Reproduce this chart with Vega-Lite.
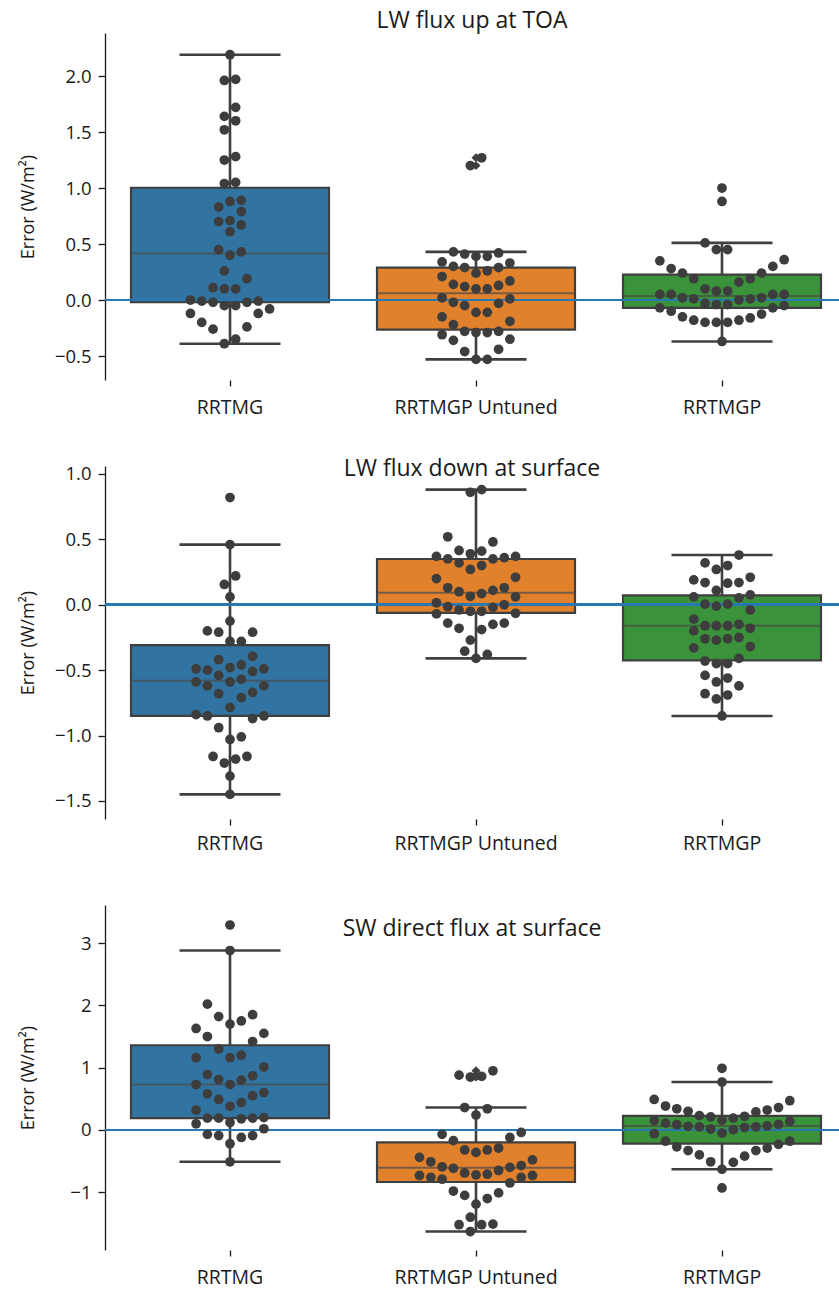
{
  "$schema": "https://vega.github.io/schema/vega-lite/v6.json",
  "padding": {"left": 19, "top": 10, "right": 0, "bottom": 12},
  "spacing": 86,
  "bounds": "flush",
  "datasets": {
    "toa": [
      {"model": "RRTMG", "error": 2.19}, {"model": "RRTMG", "error": 1.97}, {"model": "RRTMG", "error": 1.96}, {"model": "RRTMG", "error": 1.72}, {"model": "RRTMG", "error": 1.64}, {"model": "RRTMG", "error": 1.60}, {"model": "RRTMG", "error": 1.52}, {"model": "RRTMG", "error": 1.28}, {"model": "RRTMG", "error": 1.25}, {"model": "RRTMG", "error": 1.05}, {"model": "RRTMG", "error": 1.04}, {"model": "RRTMG", "error": 0.89}, {"model": "RRTMG", "error": 0.88}, {"model": "RRTMG", "error": 0.83}, {"model": "RRTMG", "error": 0.79}, {"model": "RRTMG", "error": 0.70}, {"model": "RRTMG", "error": 0.71}, {"model": "RRTMG", "error": 0.67}, {"model": "RRTMG", "error": 0.61}, {"model": "RRTMG", "error": 0.43}, {"model": "RRTMG", "error": 0.40}, {"model": "RRTMG", "error": 0.45}, {"model": "RRTMG", "error": 0.26}, {"model": "RRTMG", "error": 0.19}, {"model": "RRTMG", "error": 0.11}, {"model": "RRTMG", "error": 0.10}, {"model": "RRTMG", "error": 0.10}, {"model": "RRTMG", "error": 0.00}, {"model": "RRTMG", "error": -0.01}, {"model": "RRTMG", "error": -0.05}, {"model": "RRTMG", "error": -0.02}, {"model": "RRTMG", "error": -0.05}, {"model": "RRTMG", "error": -0.02}, {"model": "RRTMG", "error": -0.01}, {"model": "RRTMG", "error": -0.08}, {"model": "RRTMG", "error": -0.12}, {"model": "RRTMG", "error": -0.12}, {"model": "RRTMG", "error": -0.20}, {"model": "RRTMG", "error": -0.26}, {"model": "RRTMG", "error": -0.24}, {"model": "RRTMG", "error": -0.35}, {"model": "RRTMG", "error": -0.39},
      {"model": "RRTMGP Untuned", "error": 1.27}, {"model": "RRTMGP Untuned", "error": 1.20}, {"model": "RRTMGP Untuned", "error": 0.43}, {"model": "RRTMGP Untuned", "error": 0.41}, {"model": "RRTMGP Untuned", "error": 0.39}, {"model": "RRTMGP Untuned", "error": 0.33}, {"model": "RRTMGP Untuned", "error": 0.39}, {"model": "RRTMGP Untuned", "error": 0.42}, {"model": "RRTMGP Untuned", "error": 0.34}, {"model": "RRTMGP Untuned", "error": 0.30}, {"model": "RRTMGP Untuned", "error": 0.29}, {"model": "RRTMGP Untuned", "error": 0.26}, {"model": "RRTMGP Untuned", "error": 0.21}, {"model": "RRTMGP Untuned", "error": 0.24}, {"model": "RRTMGP Untuned", "error": 0.29}, {"model": "RRTMGP Untuned", "error": 0.14}, {"model": "RRTMGP Untuned", "error": 0.13}, {"model": "RRTMGP Untuned", "error": 0.10}, {"model": "RRTMGP Untuned", "error": 0.10}, {"model": "RRTMGP Untuned", "error": 0.12}, {"model": "RRTMGP Untuned", "error": 0.17}, {"model": "RRTMGP Untuned", "error": 0.02}, {"model": "RRTMGP Untuned", "error": 0.01}, {"model": "RRTMGP Untuned", "error": -0.03}, {"model": "RRTMGP Untuned", "error": -0.05}, {"model": "RRTMGP Untuned", "error": -0.02}, {"model": "RRTMGP Untuned", "error": -0.11}, {"model": "RRTMGP Untuned", "error": -0.11}, {"model": "RRTMGP Untuned", "error": -0.15}, {"model": "RRTMGP Untuned", "error": -0.19}, {"model": "RRTMGP Untuned", "error": -0.22}, {"model": "RRTMGP Untuned", "error": -0.28}, {"model": "RRTMGP Untuned", "error": -0.29}, {"model": "RRTMGP Untuned", "error": -0.31}, {"model": "RRTMGP Untuned", "error": -0.36}, {"model": "RRTMGP Untuned", "error": -0.35}, {"model": "RRTMGP Untuned", "error": -0.29}, {"model": "RRTMGP Untuned", "error": -0.28}, {"model": "RRTMGP Untuned", "error": -0.44}, {"model": "RRTMGP Untuned", "error": -0.46}, {"model": "RRTMGP Untuned", "error": -0.53}, {"model": "RRTMGP Untuned", "error": -0.53},
      {"model": "RRTMGP", "error": 1.00}, {"model": "RRTMGP", "error": 0.88}, {"model": "RRTMGP", "error": 0.51}, {"model": "RRTMGP", "error": 0.45}, {"model": "RRTMGP", "error": 0.45}, {"model": "RRTMGP", "error": 0.30}, {"model": "RRTMGP", "error": 0.35}, {"model": "RRTMGP", "error": 0.36}, {"model": "RRTMGP", "error": 0.28}, {"model": "RRTMGP", "error": 0.24}, {"model": "RRTMGP", "error": 0.24}, {"model": "RRTMGP", "error": 0.19}, {"model": "RRTMGP", "error": 0.16}, {"model": "RRTMGP", "error": 0.19}, {"model": "RRTMGP", "error": 0.10}, {"model": "RRTMGP", "error": 0.08}, {"model": "RRTMGP", "error": 0.05}, {"model": "RRTMGP", "error": 0.05}, {"model": "RRTMGP", "error": 0.05}, {"model": "RRTMGP", "error": 0.08}, {"model": "RRTMGP", "error": 0.02}, {"model": "RRTMGP", "error": 0.01}, {"model": "RRTMGP", "error": 0.01}, {"model": "RRTMGP", "error": 0.00}, {"model": "RRTMGP", "error": 0.02}, {"model": "RRTMGP", "error": 0.05}, {"model": "RRTMGP", "error": -0.03}, {"model": "RRTMGP", "error": -0.04}, {"model": "RRTMGP", "error": -0.07}, {"model": "RRTMGP", "error": -0.10}, {"model": "RRTMGP", "error": -0.07}, {"model": "RRTMGP", "error": -0.05}, {"model": "RRTMGP", "error": -0.04}, {"model": "RRTMGP", "error": -0.125}, {"model": "RRTMGP", "error": -0.16}, {"model": "RRTMGP", "error": -0.18}, {"model": "RRTMGP", "error": -0.20}, {"model": "RRTMGP", "error": -0.20}, {"model": "RRTMGP", "error": -0.20}, {"model": "RRTMGP", "error": -0.18}, {"model": "RRTMGP", "error": -0.15}, {"model": "RRTMGP", "error": -0.37}
    ],
    "sfc": [
      {"model": "RRTMG", "error": 0.82}, {"model": "RRTMG", "error": 0.46}, {"model": "RRTMG", "error": 0.22}, {"model": "RRTMG", "error": 0.155}, {"model": "RRTMG", "error": 0.06}, {"model": "RRTMG", "error": -0.125}, {"model": "RRTMG", "error": -0.20}, {"model": "RRTMG", "error": -0.21}, {"model": "RRTMG", "error": -0.21}, {"model": "RRTMG", "error": -0.28}, {"model": "RRTMG", "error": -0.28}, {"model": "RRTMG", "error": -0.395}, {"model": "RRTMG", "error": -0.42}, {"model": "RRTMG", "error": -0.49}, {"model": "RRTMG", "error": -0.51}, {"model": "RRTMG", "error": -0.48}, {"model": "RRTMG", "error": -0.54}, {"model": "RRTMG", "error": -0.50}, {"model": "RRTMG", "error": -0.49}, {"model": "RRTMG", "error": -0.46}, {"model": "RRTMG", "error": -0.57}, {"model": "RRTMG", "error": -0.62}, {"model": "RRTMG", "error": -0.62}, {"model": "RRTMG", "error": -0.59}, {"model": "RRTMG", "error": -0.59}, {"model": "RRTMG", "error": -0.68}, {"model": "RRTMG", "error": -0.71}, {"model": "RRTMG", "error": -0.67}, {"model": "RRTMG", "error": -0.785}, {"model": "RRTMG", "error": -0.85}, {"model": "RRTMG", "error": -0.87}, {"model": "RRTMG", "error": -0.85}, {"model": "RRTMG", "error": -0.84}, {"model": "RRTMG", "error": -0.94}, {"model": "RRTMG", "error": -1.01}, {"model": "RRTMG", "error": -1.03}, {"model": "RRTMG", "error": -1.18}, {"model": "RRTMG", "error": -1.21}, {"model": "RRTMG", "error": -1.16}, {"model": "RRTMG", "error": -1.16}, {"model": "RRTMG", "error": -1.31}, {"model": "RRTMG", "error": -1.45},
      {"model": "RRTMGP Untuned", "error": 0.88}, {"model": "RRTMGP Untuned", "error": 0.86}, {"model": "RRTMGP Untuned", "error": 0.52}, {"model": "RRTMGP Untuned", "error": 0.48}, {"model": "RRTMGP Untuned", "error": 0.41}, {"model": "RRTMGP Untuned", "error": 0.37}, {"model": "RRTMGP Untuned", "error": 0.35}, {"model": "RRTMGP Untuned", "error": 0.415}, {"model": "RRTMGP Untuned", "error": 0.39}, {"model": "RRTMGP Untuned", "error": 0.32}, {"model": "RRTMGP Untuned", "error": 0.30}, {"model": "RRTMGP Untuned", "error": 0.27}, {"model": "RRTMGP Untuned", "error": 0.35}, {"model": "RRTMGP Untuned", "error": 0.36}, {"model": "RRTMGP Untuned", "error": 0.37}, {"model": "RRTMGP Untuned", "error": 0.21}, {"model": "RRTMGP Untuned", "error": 0.20}, {"model": "RRTMGP Untuned", "error": 0.13}, {"model": "RRTMGP Untuned", "error": 0.11}, {"model": "RRTMGP Untuned", "error": 0.085}, {"model": "RRTMGP Untuned", "error": 0.06}, {"model": "RRTMGP Untuned", "error": 0.065}, {"model": "RRTMGP Untuned", "error": 0.10}, {"model": "RRTMGP Untuned", "error": 0.13}, {"model": "RRTMGP Untuned", "error": 0.0}, {"model": "RRTMGP Untuned", "error": -0.04}, {"model": "RRTMGP Untuned", "error": -0.065}, {"model": "RRTMGP Untuned", "error": -0.02}, {"model": "RRTMGP Untuned", "error": -0.07}, {"model": "RRTMGP Untuned", "error": -0.05}, {"model": "RRTMGP Untuned", "error": -0.05}, {"model": "RRTMGP Untuned", "error": -0.015}, {"model": "RRTMGP Untuned", "error": 0.015}, {"model": "RRTMGP Untuned", "error": -0.14}, {"model": "RRTMGP Untuned", "error": -0.15}, {"model": "RRTMGP Untuned", "error": -0.19}, {"model": "RRTMGP Untuned", "error": -0.18}, {"model": "RRTMGP Untuned", "error": -0.14}, {"model": "RRTMGP Untuned", "error": -0.27}, {"model": "RRTMGP Untuned", "error": -0.38}, {"model": "RRTMGP Untuned", "error": -0.355}, {"model": "RRTMGP Untuned", "error": -0.41},
      {"model": "RRTMGP", "error": 0.38}, {"model": "RRTMGP", "error": 0.32}, {"model": "RRTMGP", "error": 0.30}, {"model": "RRTMGP", "error": 0.27}, {"model": "RRTMGP", "error": 0.21}, {"model": "RRTMGP", "error": 0.17}, {"model": "RRTMGP", "error": 0.165}, {"model": "RRTMGP", "error": 0.17}, {"model": "RRTMGP", "error": 0.19}, {"model": "RRTMGP", "error": 0.11}, {"model": "RRTMGP", "error": 0.076}, {"model": "RRTMGP", "error": 0.053}, {"model": "RRTMGP", "error": 0.06}, {"model": "RRTMGP", "error": 0.005}, {"model": "RRTMGP", "error": -0.04}, {"model": "RRTMGP", "error": -0.01}, {"model": "RRTMGP", "error": 0.005}, {"model": "RRTMGP", "error": -0.11}, {"model": "RRTMGP", "error": -0.15}, {"model": "RRTMGP", "error": -0.16}, {"model": "RRTMGP", "error": -0.16}, {"model": "RRTMGP", "error": -0.20}, {"model": "RRTMGP", "error": -0.18}, {"model": "RRTMGP", "error": -0.16}, {"model": "RRTMGP", "error": -0.26}, {"model": "RRTMGP", "error": -0.27}, {"model": "RRTMGP", "error": -0.26}, {"model": "RRTMGP", "error": -0.25}, {"model": "RRTMGP", "error": -0.33}, {"model": "RRTMGP", "error": -0.32}, {"model": "RRTMGP", "error": -0.41}, {"model": "RRTMGP", "error": -0.45}, {"model": "RRTMGP", "error": -0.45}, {"model": "RRTMGP", "error": -0.43}, {"model": "RRTMGP", "error": -0.59}, {"model": "RRTMGP", "error": -0.56}, {"model": "RRTMGP", "error": -0.54}, {"model": "RRTMGP", "error": -0.62}, {"model": "RRTMGP", "error": -0.69}, {"model": "RRTMGP", "error": -0.68}, {"model": "RRTMGP", "error": -0.72}, {"model": "RRTMGP", "error": -0.85}
    ],
    "sw": [
      {"model": "RRTMG", "error": 3.29}, {"model": "RRTMG", "error": 2.88}, {"model": "RRTMG", "error": 2.02}, {"model": "RRTMG", "error": 1.82}, {"model": "RRTMG", "error": 1.85}, {"model": "RRTMG", "error": 1.75}, {"model": "RRTMG", "error": 1.70}, {"model": "RRTMG", "error": 1.63}, {"model": "RRTMG", "error": 1.55}, {"model": "RRTMG", "error": 1.50}, {"model": "RRTMG", "error": 1.42}, {"model": "RRTMG", "error": 1.30}, {"model": "RRTMG", "error": 1.16}, {"model": "RRTMG", "error": 1.16}, {"model": "RRTMG", "error": 1.20}, {"model": "RRTMG", "error": 1.01}, {"model": "RRTMG", "error": 0.87}, {"model": "RRTMG", "error": 0.73}, {"model": "RRTMG", "error": 0.73}, {"model": "RRTMG", "error": 0.80}, {"model": "RRTMG", "error": 0.81}, {"model": "RRTMG", "error": 0.89}, {"model": "RRTMG", "error": 0.55}, {"model": "RRTMG", "error": 0.58}, {"model": "RRTMG", "error": 0.60}, {"model": "RRTMG", "error": 0.49}, {"model": "RRTMG", "error": 0.44}, {"model": "RRTMG", "error": 0.32}, {"model": "RRTMG", "error": 0.38}, {"model": "RRTMG", "error": 0.20}, {"model": "RRTMG", "error": 0.19}, {"model": "RRTMG", "error": 0.12}, {"model": "RRTMG", "error": 0.19}, {"model": "RRTMG", "error": 0.10}, {"model": "RRTMG", "error": 0.18}, {"model": "RRTMG", "error": 0.19}, {"model": "RRTMG", "error": 0.02}, {"model": "RRTMG", "error": -0.07}, {"model": "RRTMG", "error": -0.12}, {"model": "RRTMG", "error": -0.09}, {"model": "RRTMG", "error": -0.09}, {"model": "RRTMG", "error": -0.22}, {"model": "RRTMG", "error": -0.51},
      {"model": "RRTMGP Untuned", "error": 0.95}, {"model": "RRTMGP Untuned", "error": 0.86}, {"model": "RRTMGP Untuned", "error": 0.85}, {"model": "RRTMGP Untuned", "error": 0.88}, {"model": "RRTMGP Untuned", "error": 0.34}, {"model": "RRTMGP Untuned", "error": 0.36}, {"model": "RRTMGP Untuned", "error": 0.24}, {"model": "RRTMGP Untuned", "error": -0.04}, {"model": "RRTMGP Untuned", "error": -0.07}, {"model": "RRTMGP Untuned", "error": -0.17}, {"model": "RRTMGP Untuned", "error": -0.12}, {"model": "RRTMGP Untuned", "error": -0.32}, {"model": "RRTMGP Untuned", "error": -0.36}, {"model": "RRTMGP Untuned", "error": -0.32}, {"model": "RRTMGP Untuned", "error": -0.29}, {"model": "RRTMGP Untuned", "error": -0.44}, {"model": "RRTMGP Untuned", "error": -0.48}, {"model": "RRTMGP Untuned", "error": -0.57}, {"model": "RRTMGP Untuned", "error": -0.59}, {"model": "RRTMGP Untuned", "error": -0.51}, {"model": "RRTMGP Untuned", "error": -0.615}, {"model": "RRTMGP Untuned", "error": -0.71}, {"model": "RRTMGP Untuned", "error": -0.73}, {"model": "RRTMGP Untuned", "error": -0.76}, {"model": "RRTMGP Untuned", "error": -0.76}, {"model": "RRTMGP Untuned", "error": -0.65}, {"model": "RRTMGP Untuned", "error": -0.79}, {"model": "RRTMGP Untuned", "error": -0.73}, {"model": "RRTMGP Untuned", "error": -0.72}, {"model": "RRTMGP Untuned", "error": -0.69}, {"model": "RRTMGP Untuned", "error": -0.60}, {"model": "RRTMGP Untuned", "error": -0.85}, {"model": "RRTMGP Untuned", "error": -0.98}, {"model": "RRTMGP Untuned", "error": -1.10}, {"model": "RRTMGP Untuned", "error": -1.05}, {"model": "RRTMGP Untuned", "error": -1.01}, {"model": "RRTMGP Untuned", "error": -1.19}, {"model": "RRTMGP Untuned", "error": -1.40}, {"model": "RRTMGP Untuned", "error": -1.52}, {"model": "RRTMGP Untuned", "error": -1.52}, {"model": "RRTMGP Untuned", "error": -1.51}, {"model": "RRTMGP Untuned", "error": -1.63},
      {"model": "RRTMGP", "error": 0.99}, {"model": "RRTMGP", "error": 0.77}, {"model": "RRTMGP", "error": 0.36}, {"model": "RRTMGP", "error": 0.29}, {"model": "RRTMGP", "error": 0.22}, {"model": "RRTMGP", "error": 0.34}, {"model": "RRTMGP", "error": 0.385}, {"model": "RRTMGP", "error": 0.32}, {"model": "RRTMGP", "error": 0.47}, {"model": "RRTMGP", "error": 0.49}, {"model": "RRTMGP", "error": 0.19}, {"model": "RRTMGP", "error": 0.14}, {"model": "RRTMGP", "error": 0.15}, {"model": "RRTMGP", "error": 0.21}, {"model": "RRTMGP", "error": 0.23}, {"model": "RRTMGP", "error": 0.30}, {"model": "RRTMGP", "error": 0.155}, {"model": "RRTMGP", "error": 0.09}, {"model": "RRTMGP", "error": 0.065}, {"model": "RRTMGP", "error": 0.05}, {"model": "RRTMGP", "error": 0.04}, {"model": "RRTMGP", "error": 0.005}, {"model": "RRTMGP", "error": -0.06}, {"model": "RRTMGP", "error": -0.05}, {"model": "RRTMGP", "error": 0.015}, {"model": "RRTMGP", "error": 0.05}, {"model": "RRTMGP", "error": 0.06}, {"model": "RRTMGP", "error": 0.085}, {"model": "RRTMGP", "error": 0.11}, {"model": "RRTMGP", "error": -0.18}, {"model": "RRTMGP", "error": -0.27}, {"model": "RRTMGP", "error": -0.29}, {"model": "RRTMGP", "error": -0.23}, {"model": "RRTMGP", "error": -0.33}, {"model": "RRTMGP", "error": -0.33}, {"model": "RRTMGP", "error": -0.18}, {"model": "RRTMGP", "error": -0.40}, {"model": "RRTMGP", "error": -0.42}, {"model": "RRTMGP", "error": -0.52}, {"model": "RRTMGP", "error": -0.51}, {"model": "RRTMGP", "error": -0.63}, {"model": "RRTMGP", "error": -0.93}
    ]
  },
  "vconcat": [
    {
      "width": 734, "height": 347,
      "title": {"text": "LW flux up at TOA", "offset": 0},
      "data": {"name": "toa"},
      "transform": [
        {"window": [{"op": "lag", "field": "error", "param": 1, "as": "l1"}, {"op": "lag", "field": "error", "param": 2, "as": "l2"}, {"op": "lag", "field": "error", "param": 3, "as": "l3"}, {"op": "lag", "field": "error", "param": 4, "as": "l4"}, {"op": "lag", "field": "error", "param": 5, "as": "l5"}, {"op": "lag", "field": "error", "param": 6, "as": "l6"}, {"op": "lag", "field": "error", "param": 7, "as": "l7"}, {"op": "lag", "field": "error", "param": 8, "as": "l8"}, {"op": "lag", "field": "error", "param": 9, "as": "l9"}, {"op": "lag", "field": "error", "param": 10, "as": "l10"}, {"op": "lag", "field": "error", "param": 11, "as": "l11"}, {"op": "lag", "field": "error", "param": 12, "as": "l12"}], "groupby": ["model"], "sort": [{"field": "error"}]},
        {"calculate": "datum.l1 == null || datum.error - datum.l1 > 0.098 ? 1 : 0", "as": "brk"},
        {"window": [{"op": "sum", "field": "brk", "as": "chain"}], "groupby": ["model"], "sort": [{"field": "error"}], "frame": [null, 0]},
        {"calculate": "(datum.l1 != null && datum.error - datum.l1 < 0.098 ? 1 : 0) + (datum.l2 != null && datum.error - datum.l2 < 0.098 ? 1 : 0) + (datum.l3 != null && datum.error - datum.l3 < 0.098 ? 1 : 0) + (datum.l4 != null && datum.error - datum.l4 < 0.098 ? 1 : 0) + (datum.l5 != null && datum.error - datum.l5 < 0.098 ? 1 : 0) + (datum.l6 != null && datum.error - datum.l6 < 0.098 ? 1 : 0) + (datum.l7 != null && datum.error - datum.l7 < 0.098 ? 1 : 0) + (datum.l8 != null && datum.error - datum.l8 < 0.098 ? 1 : 0) + (datum.l9 != null && datum.error - datum.l9 < 0.098 ? 1 : 0) + (datum.l10 != null && datum.error - datum.l10 < 0.098 ? 1 : 0) + (datum.l11 != null && datum.error - datum.l11 < 0.098 ? 1 : 0) + (datum.l12 != null && datum.error - datum.l12 < 0.098 ? 1 : 0)", "as": "c"},
        {"window": [{"op": "row_number", "as": "k"}, {"op": "max", "field": "c", "as": "m"}], "groupby": ["model", "chain"], "sort": [{"field": "error"}], "frame": [null, null]},
        {"calculate": "(datum.k - 1) % (datum.m + 1)", "as": "j"},
        {"calculate": "((datum.j == 0 ? 0 : (datum.j % 2 == 1 ? (datum.j + 1) / 2 : -datum.j / 2)) - ((datum.m + 1) % 2 == 0 ? 0.5 : 0)) * 11.3", "as": "swarm"}
      ],
      "layer": [
        {
          "mark": {"type": "boxplot", "extent": 1.5, "size": 198, "outliers": false,
            "box": {"stroke": "#3f3f3f", "strokeWidth": 2.2},
            "median": {"color": "#4a4a4a", "thickness": 2},
            "rule": {"color": "#3f3f3f", "strokeWidth": 2.6},
            "ticks": {"color": "#3f3f3f", "size": 101, "thickness": 2.6}},
          "encoding": {
            "x": {"field": "model", "type": "nominal", "sort": ["RRTMG", "RRTMGP Untuned", "RRTMGP"], "scale": {"range": [2, 740], "paddingInner": 0, "paddingOuter": 0}, "axis": {"title": null, "domain": false, "labelAngle": 0, "tickSize": 6, "labelPadding": 12, "labelFontSize": 19.5}},
            "y": {"field": "error", "type": "quantitative", "title": "Error (W/m²)", "scale": {"domain": [-0.714, 2.384], "nice": false, "zero": false}, "axis": {"values": [-0.5, 0, 0.5, 1, 1.5, 2], "format": ".1f"}},
            "color": {"field": "model", "type": "nominal", "scale": {"domain": ["RRTMG", "RRTMGP Untuned", "RRTMGP"], "range": ["#3274a1", "#e1812c", "#3a923a"]}, "legend": null}
          }
        },
        {
          "transform": [
            {"joinaggregate": [{"op": "q1", "field": "error", "as": "q1"}, {"op": "q3", "field": "error", "as": "q3"}], "groupby": ["model"]},
            {"filter": "datum.error > datum.q3 + 1.5 * (datum.q3 - datum.q1) || datum.error < datum.q1 - 1.5 * (datum.q3 - datum.q1)"}
          ],
          "mark": {"type": "point", "shape": "diamond", "filled": true, "color": "#3f3f3f", "size": 80, "opacity": 1},
          "encoding": {
            "x": {"field": "model", "type": "nominal", "sort": ["RRTMG", "RRTMGP Untuned", "RRTMGP"]},
            "y": {"field": "error", "type": "quantitative", "title": "Error (W/m²)"}
          }
        },
        {
          "mark": {"type": "rule", "color": "#2878b5", "strokeWidth": 2},
          "encoding": {"y": {"datum": 0, "type": "quantitative", "title": "Error (W/m²)"}}
        },
        {
          "mark": {"type": "circle", "size": 95, "color": "#3d3d3d", "opacity": 1},
          "encoding": {
            "x": {"field": "model", "type": "nominal", "sort": ["RRTMG", "RRTMGP Untuned", "RRTMGP"]},
            "xOffset": {"field": "swarm", "type": "quantitative", "scale": {"domain": [-123, 123], "range": [0, 246]}},
            "y": {"field": "error", "type": "quantitative", "title": "Error (W/m²)"}
          }
        }
      ]
    },
    {
      "width": 734, "height": 353,
      "title": {"text": "LW flux down at surface", "offset": -16},
      "data": {"name": "sfc"},
      "transform": [
        {"window": [{"op": "lag", "field": "error", "param": 1, "as": "l1"}, {"op": "lag", "field": "error", "param": 2, "as": "l2"}, {"op": "lag", "field": "error", "param": 3, "as": "l3"}, {"op": "lag", "field": "error", "param": 4, "as": "l4"}, {"op": "lag", "field": "error", "param": 5, "as": "l5"}, {"op": "lag", "field": "error", "param": 6, "as": "l6"}, {"op": "lag", "field": "error", "param": 7, "as": "l7"}, {"op": "lag", "field": "error", "param": 8, "as": "l8"}, {"op": "lag", "field": "error", "param": 9, "as": "l9"}, {"op": "lag", "field": "error", "param": 10, "as": "l10"}, {"op": "lag", "field": "error", "param": 11, "as": "l11"}, {"op": "lag", "field": "error", "param": 12, "as": "l12"}], "groupby": ["model"], "sort": [{"field": "error"}]},
        {"calculate": "datum.l1 == null || datum.error - datum.l1 > 0.084 ? 1 : 0", "as": "brk"},
        {"window": [{"op": "sum", "field": "brk", "as": "chain"}], "groupby": ["model"], "sort": [{"field": "error"}], "frame": [null, 0]},
        {"calculate": "(datum.l1 != null && datum.error - datum.l1 < 0.084 ? 1 : 0) + (datum.l2 != null && datum.error - datum.l2 < 0.084 ? 1 : 0) + (datum.l3 != null && datum.error - datum.l3 < 0.084 ? 1 : 0) + (datum.l4 != null && datum.error - datum.l4 < 0.084 ? 1 : 0) + (datum.l5 != null && datum.error - datum.l5 < 0.084 ? 1 : 0) + (datum.l6 != null && datum.error - datum.l6 < 0.084 ? 1 : 0) + (datum.l7 != null && datum.error - datum.l7 < 0.084 ? 1 : 0) + (datum.l8 != null && datum.error - datum.l8 < 0.084 ? 1 : 0) + (datum.l9 != null && datum.error - datum.l9 < 0.084 ? 1 : 0) + (datum.l10 != null && datum.error - datum.l10 < 0.084 ? 1 : 0) + (datum.l11 != null && datum.error - datum.l11 < 0.084 ? 1 : 0) + (datum.l12 != null && datum.error - datum.l12 < 0.084 ? 1 : 0)", "as": "c"},
        {"window": [{"op": "row_number", "as": "k"}, {"op": "max", "field": "c", "as": "m"}], "groupby": ["model", "chain"], "sort": [{"field": "error"}], "frame": [null, null]},
        {"calculate": "(datum.k - 1) % (datum.m + 1)", "as": "j"},
        {"calculate": "((datum.j == 0 ? 0 : (datum.j % 2 == 1 ? (datum.j + 1) / 2 : -datum.j / 2)) - ((datum.m + 1) % 2 == 0 ? 0.5 : 0)) * 11.3", "as": "swarm"}
      ],
      "layer": [
        {
          "mark": {"type": "boxplot", "extent": 1.5, "size": 198, "outliers": false,
            "box": {"stroke": "#3f3f3f", "strokeWidth": 2.2},
            "median": {"color": "#4a4a4a", "thickness": 2},
            "rule": {"color": "#3f3f3f", "strokeWidth": 2.6},
            "ticks": {"color": "#3f3f3f", "size": 101, "thickness": 2.6}},
          "encoding": {
            "x": {"field": "model", "type": "nominal", "sort": ["RRTMG", "RRTMGP Untuned", "RRTMGP"], "scale": {"range": [2, 740], "paddingInner": 0, "paddingOuter": 0}, "axis": {"title": null, "domain": false, "labelAngle": 0, "tickSize": 6, "labelPadding": 9, "labelFontSize": 19.5}},
            "y": {"field": "error", "type": "quantitative", "title": "Error (W/m²)", "scale": {"domain": [-1.638, 1.061], "nice": false, "zero": false}, "axis": {"values": [-1.5, -1, -0.5, 0, 0.5, 1], "format": ".1f"}},
            "color": {"field": "model", "type": "nominal", "scale": {"domain": ["RRTMG", "RRTMGP Untuned", "RRTMGP"], "range": ["#3274a1", "#e1812c", "#3a923a"]}, "legend": null}
          }
        },
        {
          "transform": [
            {"joinaggregate": [{"op": "q1", "field": "error", "as": "q1"}, {"op": "q3", "field": "error", "as": "q3"}], "groupby": ["model"]},
            {"filter": "datum.error > datum.q3 + 1.5 * (datum.q3 - datum.q1) || datum.error < datum.q1 - 1.5 * (datum.q3 - datum.q1)"}
          ],
          "mark": {"type": "point", "shape": "diamond", "filled": true, "color": "#3f3f3f", "size": 80, "opacity": 1},
          "encoding": {
            "x": {"field": "model", "type": "nominal", "sort": ["RRTMG", "RRTMGP Untuned", "RRTMGP"]},
            "y": {"field": "error", "type": "quantitative", "title": "Error (W/m²)"}
          }
        },
        {
          "mark": {"type": "rule", "color": "#2878b5", "strokeWidth": 2},
          "encoding": {"y": {"datum": 0, "type": "quantitative", "title": "Error (W/m²)"}}
        },
        {
          "mark": {"type": "circle", "size": 95, "color": "#3d3d3d", "opacity": 1},
          "encoding": {
            "x": {"field": "model", "type": "nominal", "sort": ["RRTMG", "RRTMGP Untuned", "RRTMGP"]},
            "xOffset": {"field": "swarm", "type": "quantitative", "scale": {"domain": [-123, 123], "range": [0, 246]}},
            "y": {"field": "error", "type": "quantitative", "title": "Error (W/m²)"}
          }
        }
      ]
    },
    {
      "width": 734, "height": 345,
      "title": {"text": "SW direct flux at surface", "offset": -36},
      "data": {"name": "sw"},
      "transform": [
        {"window": [{"op": "lag", "field": "error", "param": 1, "as": "l1"}, {"op": "lag", "field": "error", "param": 2, "as": "l2"}, {"op": "lag", "field": "error", "param": 3, "as": "l3"}, {"op": "lag", "field": "error", "param": 4, "as": "l4"}, {"op": "lag", "field": "error", "param": 5, "as": "l5"}, {"op": "lag", "field": "error", "param": 6, "as": "l6"}, {"op": "lag", "field": "error", "param": 7, "as": "l7"}, {"op": "lag", "field": "error", "param": 8, "as": "l8"}, {"op": "lag", "field": "error", "param": 9, "as": "l9"}, {"op": "lag", "field": "error", "param": 10, "as": "l10"}, {"op": "lag", "field": "error", "param": 11, "as": "l11"}, {"op": "lag", "field": "error", "param": 12, "as": "l12"}], "groupby": ["model"], "sort": [{"field": "error"}]},
        {"calculate": "datum.l1 == null || datum.error - datum.l1 > 0.177 ? 1 : 0", "as": "brk"},
        {"window": [{"op": "sum", "field": "brk", "as": "chain"}], "groupby": ["model"], "sort": [{"field": "error"}], "frame": [null, 0]},
        {"calculate": "(datum.l1 != null && datum.error - datum.l1 < 0.177 ? 1 : 0) + (datum.l2 != null && datum.error - datum.l2 < 0.177 ? 1 : 0) + (datum.l3 != null && datum.error - datum.l3 < 0.177 ? 1 : 0) + (datum.l4 != null && datum.error - datum.l4 < 0.177 ? 1 : 0) + (datum.l5 != null && datum.error - datum.l5 < 0.177 ? 1 : 0) + (datum.l6 != null && datum.error - datum.l6 < 0.177 ? 1 : 0) + (datum.l7 != null && datum.error - datum.l7 < 0.177 ? 1 : 0) + (datum.l8 != null && datum.error - datum.l8 < 0.177 ? 1 : 0) + (datum.l9 != null && datum.error - datum.l9 < 0.177 ? 1 : 0) + (datum.l10 != null && datum.error - datum.l10 < 0.177 ? 1 : 0) + (datum.l11 != null && datum.error - datum.l11 < 0.177 ? 1 : 0) + (datum.l12 != null && datum.error - datum.l12 < 0.177 ? 1 : 0)", "as": "c"},
        {"window": [{"op": "row_number", "as": "k"}, {"op": "max", "field": "c", "as": "m"}], "groupby": ["model", "chain"], "sort": [{"field": "error"}], "frame": [null, null]},
        {"calculate": "(datum.k - 1) % (datum.m + 1)", "as": "j"},
        {"calculate": "((datum.j == 0 ? 0 : (datum.j % 2 == 1 ? (datum.j + 1) / 2 : -datum.j / 2)) - ((datum.m + 1) % 2 == 0 ? 0.5 : 0)) * 11.3", "as": "swarm"}
      ],
      "layer": [
        {
          "mark": {"type": "boxplot", "extent": 1.5, "size": 198, "outliers": false,
            "box": {"stroke": "#3f3f3f", "strokeWidth": 2.2},
            "median": {"color": "#4a4a4a", "thickness": 2},
            "rule": {"color": "#3f3f3f", "strokeWidth": 2.6},
            "ticks": {"color": "#3f3f3f", "size": 101, "thickness": 2.6}},
          "encoding": {
            "x": {"field": "model", "type": "nominal", "sort": ["RRTMG", "RRTMGP Untuned", "RRTMGP"], "scale": {"range": [2, 740], "paddingInner": 0, "paddingOuter": 0}, "axis": {"title": null, "domain": false, "labelAngle": 0, "tickSize": 6, "labelPadding": 12, "labelFontSize": 19.5}},
            "y": {"field": "error", "type": "quantitative", "title": "Error (W/m²)", "scale": {"domain": [-1.926, 3.611], "nice": false, "zero": false}, "axis": {"values": [-1, 0, 1, 2, 3], "format": "d"}},
            "color": {"field": "model", "type": "nominal", "scale": {"domain": ["RRTMG", "RRTMGP Untuned", "RRTMGP"], "range": ["#3274a1", "#e1812c", "#3a923a"]}, "legend": null}
          }
        },
        {
          "transform": [
            {"joinaggregate": [{"op": "q1", "field": "error", "as": "q1"}, {"op": "q3", "field": "error", "as": "q3"}], "groupby": ["model"]},
            {"filter": "datum.error > datum.q3 + 1.5 * (datum.q3 - datum.q1) || datum.error < datum.q1 - 1.5 * (datum.q3 - datum.q1)"}
          ],
          "mark": {"type": "point", "shape": "diamond", "filled": true, "color": "#3f3f3f", "size": 80, "opacity": 1},
          "encoding": {
            "x": {"field": "model", "type": "nominal", "sort": ["RRTMG", "RRTMGP Untuned", "RRTMGP"]},
            "y": {"field": "error", "type": "quantitative", "title": "Error (W/m²)"}
          }
        },
        {
          "mark": {"type": "rule", "color": "#2878b5", "strokeWidth": 2},
          "encoding": {"y": {"datum": 0, "type": "quantitative", "title": "Error (W/m²)"}}
        },
        {
          "mark": {"type": "circle", "size": 95, "color": "#3d3d3d", "opacity": 1},
          "encoding": {
            "x": {"field": "model", "type": "nominal", "sort": ["RRTMG", "RRTMGP Untuned", "RRTMGP"]},
            "xOffset": {"field": "swarm", "type": "quantitative", "scale": {"domain": [-123, 123], "range": [0, 246]}},
            "y": {"field": "error", "type": "quantitative", "title": "Error (W/m²)"}
          }
        }
      ]
    }
  ],
  "config": {
    "font": "Open Sans",
    "view": {"stroke": null},
    "axis": {"grid": false, "labelFont": "Open Sans", "titleFont": "Open Sans", "labelFontSize": 18.5, "titleFontSize": 18, "titleFontWeight": "normal", "labelColor": "#1a1a1a", "titleColor": "#1a1a1a", "domainColor": "#1a1a1a", "tickColor": "#1a1a1a", "domainWidth": 1.3, "tickWidth": 1.3, "tickSize": 7, "labelPadding": 7},
    "axisY": {"titleX": -72, "titleBaseline": "alphabetic"},
    "title": {"font": "Open Sans", "fontSize": 23, "fontWeight": "normal", "color": "#1a1a1a", "anchor": "middle", "frame": "group", "baseline": "alphabetic"}
  }
}
